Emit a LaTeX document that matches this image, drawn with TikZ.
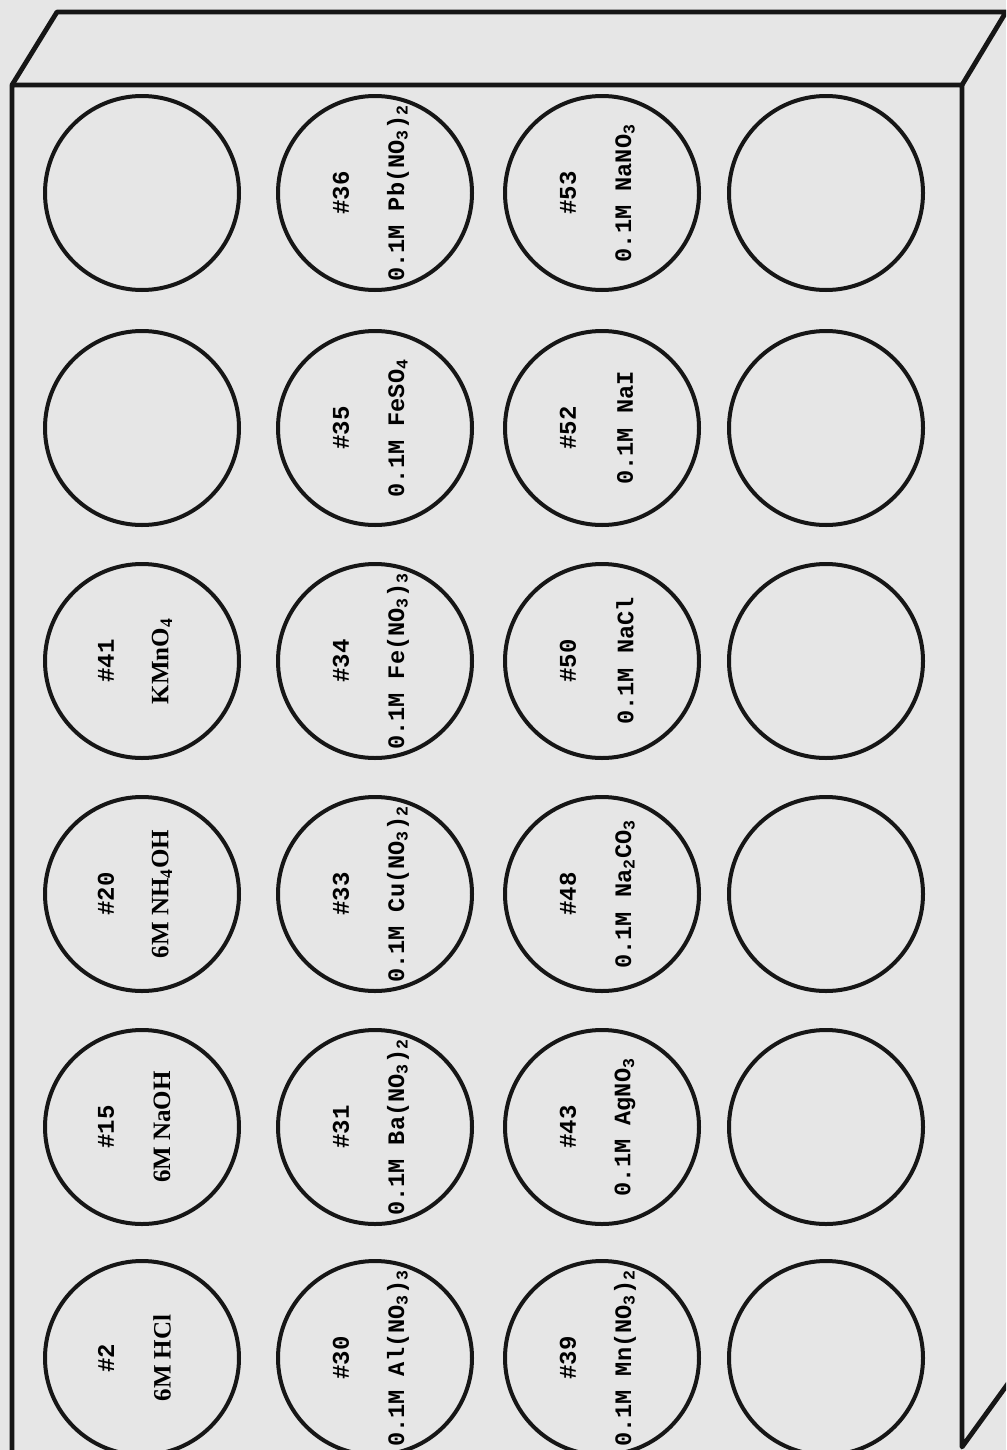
\documentclass[tikz,border=0pt]{standalone}
\usepackage{fontspec}
\setmonofont{Liberation Mono}
\newfontfamily\platefont{Liberation Serif}
\definecolor{paper}{HTML}{E6E6E6}
\definecolor{ink}{HTML}{161616}

\begin{document}
\begin{tikzpicture}[x=0.5pt,y=-0.5pt,line join=round,
  edge/.style={draw=ink,line width=2.4pt},
  well/.style={circle,draw=ink,line width=2pt,minimum size=97pt,inner sep=0pt},
  wellno/.style={rotate=90,inner sep=0pt,font=\ttfamily\bfseries\fontsize{12}{12}\selectfont},
  sol/.style={rotate=90,inner sep=0pt,font=\ttfamily\bfseries\fontsize{11.8}{12}\selectfont},
  solb/.style={rotate=90,inner sep=0pt,font=\platefont\bfseries\fontsize{12.5}{13}\selectfont}]
  \useasboundingbox (0,0) rectangle (1006,1450);
  \clip (0,0) rectangle (1006,1450);
  \fill[paper] (0,0) rectangle (1006,1450);
  % block outline
  \coordinate (fbl) at (12,1470); \coordinate (ftl) at (12,85);
  \coordinate (ftr) at (962,85);  \coordinate (fbr) at (962,1447);
  \coordinate (btl) at (57,12);   \coordinate (btr) at (1006,12);
  \coordinate (bbr) at (1012,1378);
  \draw[edge] (fbl) -- (ftl) -- (ftr) -- (fbr) -- (bbr);
  \draw[edge] (ftl) -- (btl) -- (btr) -- (ftr);
  % wells
  \foreach \c/\x in {1/142,2/375,3/602,4/826}
    \foreach \r/\y in {1/193,2/428,3/661,4/894,5/1127,6/1358}
      \node[well] (w-\c-\r) at (\x,\y) {};
  \foreach \r/\n/\s in {3/41/{KMnO\textsubscript{4}},4/20/{6M NH\textsubscript{4}OH},
                        5/15/{6M NaOH},6/2/{6M HCl}}{
    \node[wellno] (n-1-\r) at ([xshift=-18pt]w-1-\r.center) {\#\n};
    \node[solb] (s-1-\r) at ([xshift=10pt]w-1-\r.center) {\s};
  }
  \foreach \c/\r/\n/\s in {2/1/36/{0.1M Pb(NO\textsubscript{3})\textsubscript{2}},
                           2/2/35/{0.1M FeSO\textsubscript{4}},
                           2/3/34/{0.1M Fe(NO\textsubscript{3})\textsubscript{3}},
                           2/4/33/{0.1M Cu(NO\textsubscript{3})\textsubscript{2}},
                           2/5/31/{0.1M Ba(NO\textsubscript{3})\textsubscript{2}},
                           2/6/30/{0.1M Al(NO\textsubscript{3})\textsubscript{3}},
                           3/1/53/{0.1M NaNO\textsubscript{3}},
                           3/2/52/{0.1M NaI},
                           3/3/50/{0.1M NaCl},
                           3/4/48/{0.1M Na\textsubscript{2}CO\textsubscript{3}},
                           3/5/43/{0.1M AgNO\textsubscript{3}},
                           3/6/39/{0.1M Mn(NO\textsubscript{3})\textsubscript{2}}}{
    \node[wellno] (n-\c-\r) at ([xshift=-17pt]w-\c-\r.center) {\#\n};
    \node[sol] (s-\c-\r) at ([xshift=11.5pt]w-\c-\r.center) {\s};
  }
\end{tikzpicture}
\end{document}
